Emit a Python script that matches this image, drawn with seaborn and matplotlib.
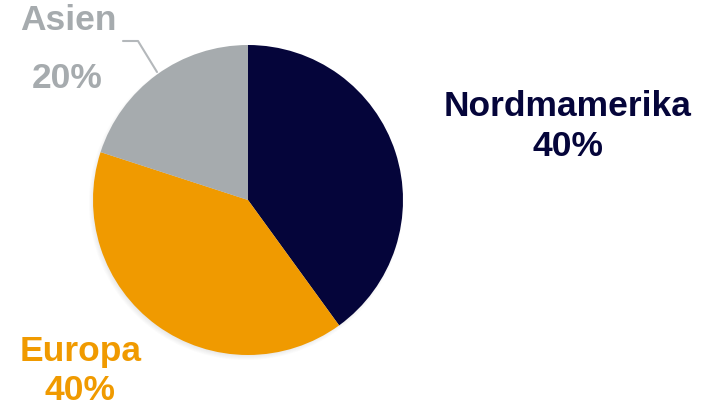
import numpy as np
import seaborn as sns
import matplotlib
matplotlib.use('Agg')
import matplotlib.pyplot as plt
from matplotlib.patches import Circle

regions = ['Nordmamerika', 'Europa', 'Asien']
shares = [40, 40, 20]
colors = ['#05053a', '#f09a00', '#a6abae']

sns.set_theme(style='white')
plt.rcParams['font.family'] = ['Liberation Sans', 'DejaVu Sans']

fig = plt.figure(figsize=(7.1, 4.1), dpi=100)
ax = fig.add_axes([0, 0, 1, 1])

# soft shadow behind the pie
for i in range(8):
    ax.add_patch(Circle((246, 206), 150 + i, color='#555555', alpha=0.025, lw=0, zorder=0))

ax.pie(shares, colors=colors, startangle=90, counterclock=False,
       center=(248, 209), radius=155, frame=True,
       wedgeprops=dict(linewidth=0, zorder=1))
ax.set_xlim(0, 710)
ax.set_ylim(0, 410)
ax.set_aspect('equal')
ax.axis('off')

# labels
lab = dict(fontsize=25.5, fontweight='bold', ha='center', va='center')
ax.text(568, 304, f'{regions[0]}', color=colors[0], **lab)
ax.text(568, 264, f'{shares[0]}%', color=colors[0], **lab)
ax.text(81, 58, f'{regions[1]}', color=colors[1], **lab)
ax.text(80, 19, f'{shares[1]}%', color=colors[1], **lab)
ax.text(68, 390, f'{regions[2]}', color=colors[2], **lab)
ax.text(67, 331, f'{shares[2]}%', color=colors[2], **lab)
ax.plot([123, 138, 157], [368, 368, 337], color='#b4b8bb', lw=1.5)

fig.savefig('out.png', dpi=100)
